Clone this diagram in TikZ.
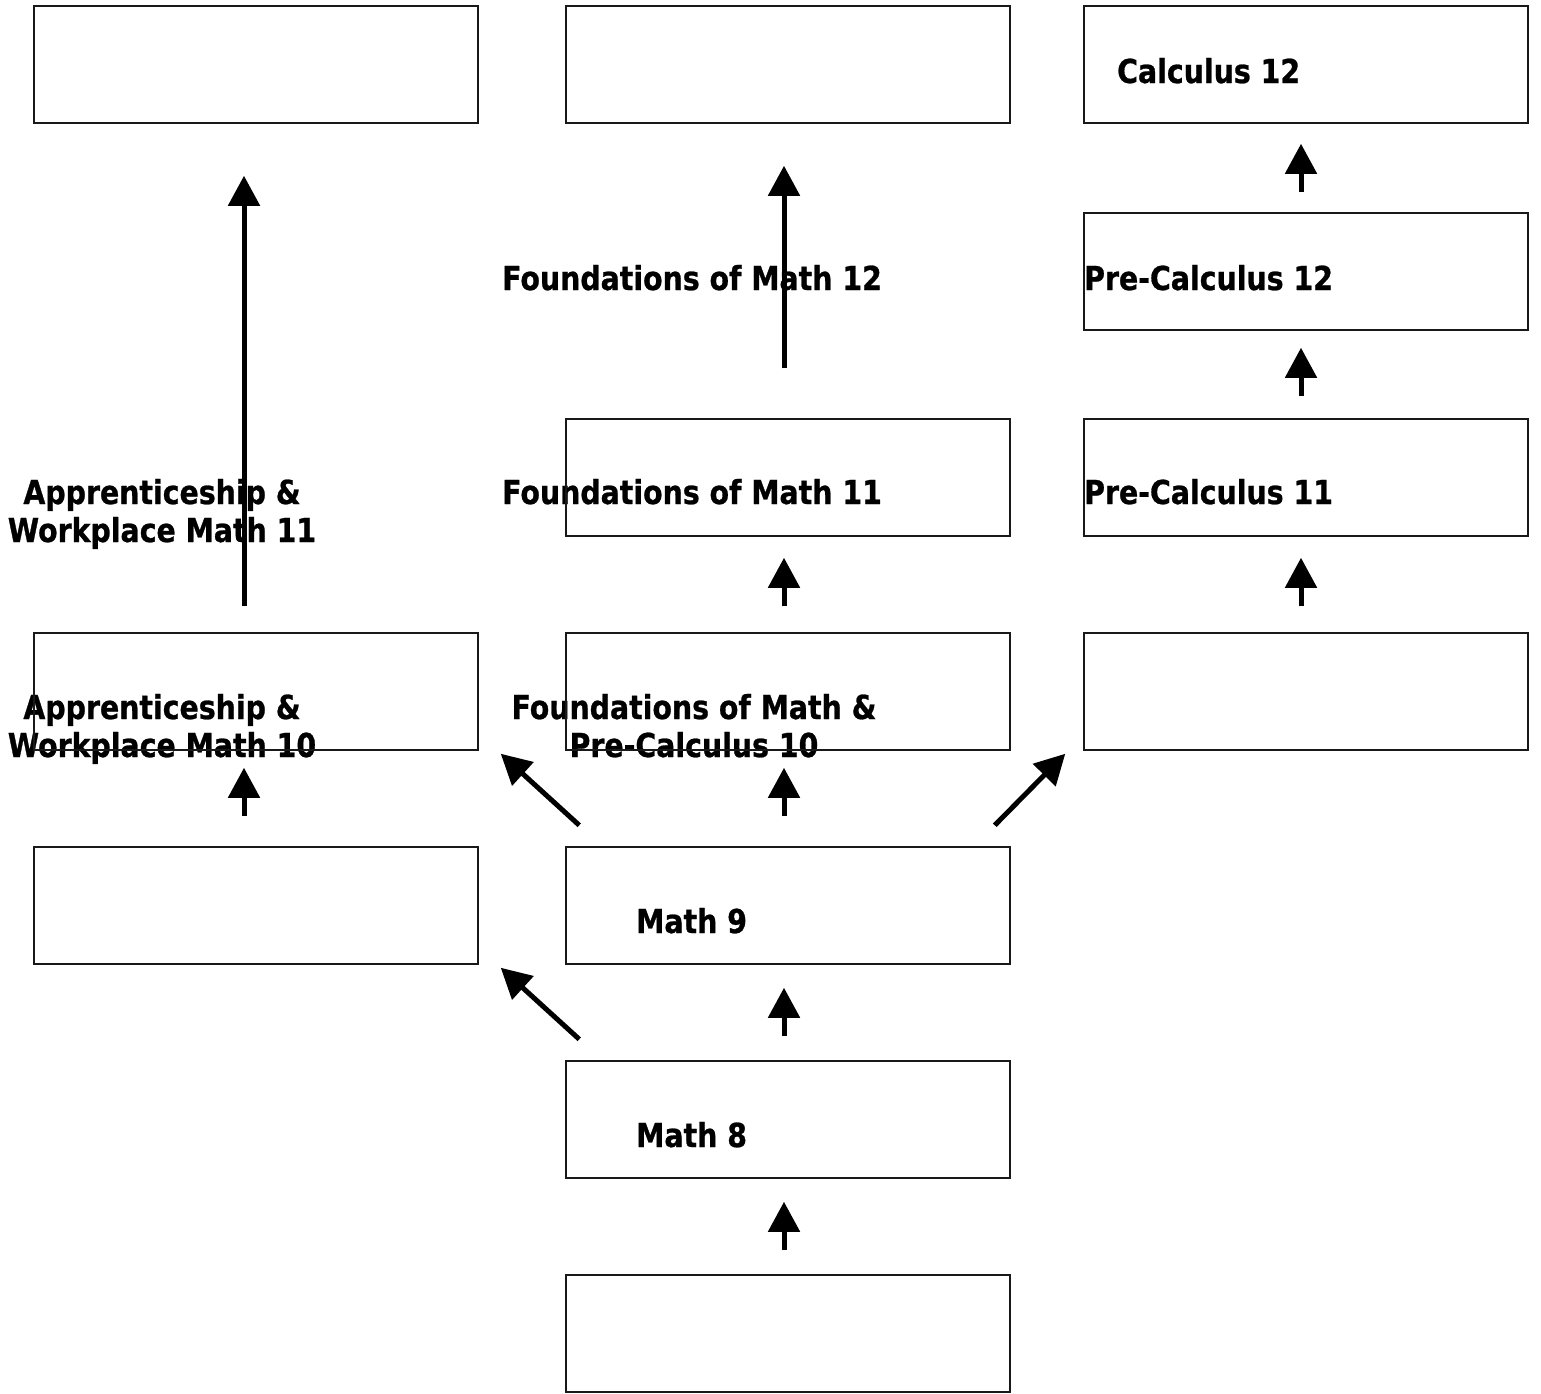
\documentclass[tikz,border=0pt]{standalone}
\usepackage{fontspec}
\setmainfont{DejaVu Sans}[FakeStretch=0.86, BoldFeatures={FakeBold=0.8}]
\usetikzlibrary{arrows.meta,positioning}
\tikzstyle{course} = [rectangle, minimum width=444pt, minimum height=117pt, inner sep=0pt, draw=black!90, line width=1.5pt]
\tikzstyle{coursetext} = [font=\fontsize{33}{38}\selectfont\bfseries, inner sep=0pt, align=center]
\tikzstyle{arrow} = [line width=5pt, -{Triangle[width=31pt,length=30pt]}]

\begin{document}
\begin{tikzpicture}[x=1pt,y=-1pt]
\useasboundingbox (0,0) rectangle (1541,1393);

% texts (they sit off their boxes)
\node[coursetext, anchor=base west] (tcalc12) at (1117,83) {Calculus 12};
\node[coursetext, anchor=base west] (tpc12) at (1084,290) {Pre-Calculus 12};
\node[coursetext, anchor=base west] (tpc11) at (1084,504) {Pre-Calculus 11};
\node[coursetext, anchor=base west] (tfom12) at (502,290) {Foundations of Math 12};
\node[coursetext, anchor=base west] (tfom11) at (502,504) {Foundations of Math 11};
\node[coursetext, anchor=base] (tapw11) at (162,542) {Apprenticeship \&\\Workplace Math 11};
\node[coursetext, anchor=base] (tapw10) at (162,757) {Apprenticeship \&\\Workplace Math 10};
\node[coursetext, anchor=base] (tfpc10) at (694,757) {Foundations of Math \&\\Pre-Calculus 10};
\node[coursetext, anchor=base west] (tmath9) at (636,933) {Math 9};
\node[coursetext, anchor=base west] (tmath8) at (636,1147) {Math 8};

% boxes
\node[course] (top2) at (788,64.5) {};
\node[course] (fom11) at (788,477.5) {};
\node[course, below=95.5pt of fom11] (fpc10) {};
\node[course, below=95.5pt of fpc10] (math9) {};
\node[course, below=95.5pt of math9] (math8) {};
\node[course, below=95.5pt of math8] (math7) {};
\node[course, left=86.5pt of top2] (top1) {};
\node[course, left=86.5pt of fpc10] (apw10) {};
\node[course, left=86.5pt of math9] (awbox) {};
\node[course, right=72.5pt of top2] (calc12) {};
\node[course] (pc12) at (1306,271.5) {};
\node[course, right=72.5pt of fom11] (pc11) {};
\node[course, right=72.5pt of fpc10] (pc10) {};

% arrows
\draw[arrow] ([xshift=-12pt,yshift=26pt]apw10.north) -- ([xshift=-12pt,yshift=-52pt]top1.south);
\draw[arrow] ([xshift=-12pt,yshift=30pt]awbox.north) -- ([xshift=-12pt,yshift=-17pt]apw10.south);
\draw[arrow] ([xshift=-4pt,yshift=50pt]fom11.north) -- ([xshift=-4pt,yshift=-42pt]top2.south);
\draw[arrow] ([xshift=-4pt,yshift=26pt]fpc10.north) -- ([xshift=-4pt,yshift=-21pt]fom11.south);
\draw[arrow] ([xshift=-4pt,yshift=30pt]math9.north) -- ([xshift=-4pt,yshift=-17pt]fpc10.south);
\draw[arrow] ([xshift=-4pt,yshift=24pt]math8.north) -- ([xshift=-4pt,yshift=-23pt]math9.south);
\draw[arrow] ([xshift=-4pt,yshift=24pt]math7.north) -- ([xshift=-4pt,yshift=-23pt]math8.south);
\draw[arrow] ([xshift=-5pt,yshift=20pt]pc12.north) -- ([xshift=-5pt,yshift=-20pt]calc12.south);
\draw[arrow] ([xshift=-5pt,yshift=22pt]pc11.north) -- ([xshift=-5pt,yshift=-17pt]pc12.south);
\draw[arrow] ([xshift=-5pt,yshift=26pt]pc10.north) -- ([xshift=-5pt,yshift=-21pt]pc11.south);
\draw[arrow] ([xshift=14pt,yshift=21pt]math9.north west) -- ([xshift=22pt,yshift=-3pt]apw10.south east);
\draw[arrow] ([xshift=-16pt,yshift=21pt]math9.north east) -- ([xshift=-18pt,yshift=-3pt]pc10.south west);
\draw[arrow] ([xshift=14pt,yshift=21pt]math8.north west) -- ([xshift=22pt,yshift=-3pt]awbox.south east);
\end{tikzpicture}
\end{document}
